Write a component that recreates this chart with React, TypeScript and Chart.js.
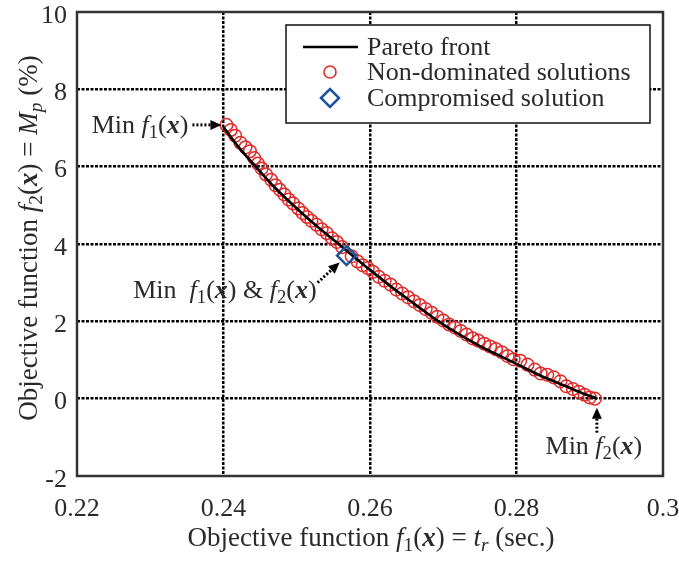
import React, { useEffect, useRef } from 'react';
import { Chart, registerables } from 'chart.js';

Chart.register(...registerables);

// ---------- data ----------
const paretoX = [0.24, 0.242, 0.2445, 0.247, 0.25, 0.253, 0.2559, 0.258, 0.26, 0.263, 0.266, 0.2692, 0.272, 0.275, 0.278, 0.28, 0.283, 0.286, 0.289, 0.291];
const paretoY = [7.02, 6.52, 5.98, 5.46, 4.92, 4.42, 3.97, 3.64, 3.33, 2.88, 2.46, 2.02, 1.68, 1.36, 1.08, 0.9, 0.62, 0.38, 0.14, 0.0];

const solX = [0.2404, 0.241, 0.2416, 0.2423, 0.243, 0.2436, 0.2442, 0.2447, 0.2452, 0.2458, 0.2465, 0.2471, 0.2477, 0.2483, 0.2489, 0.2495, 0.2502, 0.2508, 0.2514, 0.252, 0.2527, 0.2534, 0.2541, 0.2548, 0.2555, 0.2562, 0.2575, 0.2583, 0.259, 0.2597, 0.2604, 0.2612, 0.262, 0.2628, 0.2636, 0.2644, 0.2652, 0.266, 0.2668, 0.2676, 0.2684, 0.2692, 0.27, 0.2708, 0.2716, 0.2724, 0.2732, 0.274, 0.2748, 0.2756, 0.2764, 0.2772, 0.278, 0.2788, 0.2796, 0.2805, 0.2815, 0.2825, 0.2833, 0.2842, 0.2851, 0.286, 0.2868, 0.2877, 0.2885, 0.2893, 0.29, 0.2907];
const solY = [7.08, 6.95, 6.8, 6.62, 6.5, 6.4, 6.22, 6.08, 5.95, 5.8, 5.66, 5.52, 5.4, 5.28, 5.15, 5.05, 4.92, 4.8, 4.7, 4.6, 4.5, 4.38, 4.28, 4.15, 4.05, 3.92, 3.68, 3.55, 3.45, 3.38, 3.28, 3.15, 3.05, 2.95, 2.82, 2.72, 2.62, 2.52, 2.42, 2.32, 2.22, 2.12, 2.02, 1.92, 1.84, 1.75, 1.66, 1.56, 1.5, 1.42, 1.35, 1.28, 1.2, 1.1, 1.02, 0.98, 0.88, 0.75, 0.65, 0.62, 0.55, 0.45, 0.32, 0.25, 0.18, 0.1, 0.03, 0.0];

const compromiseX = [0.2568];
const compromiseY = [3.7];

const xTicks = [0.22, 0.24, 0.26, 0.28, 0.3];
const xTickLabels = ['0.22', '0.24', '0.26', '0.28', '0.3'];
const yTicks = [-2, 0, 2, 4, 6, 8, 10];
const yTickLabels = ['-2', '0', '2', '4', '6', '8', '10'];

const seriesNames = ['Pareto front', 'Non-dominated solutions', 'Compromised solution'];

// ---------- style ----------
const FONT = '"Liberation Serif", "Times New Roman", serif';
const TEXT = '#2a2a2a';
const RED = '#e02a2a';
const BLUE = '#1f4f9f';

type Run = { t: string; st?: '' | 'i' | 'bi'; sub?: boolean };

const fx = (n: string): Run[] => [
  { t: 'f', st: 'i' },
  { t: n, sub: true },
  { t: '(' },
  { t: 'x', st: 'bi' },
  { t: ')' },
];

function fontFor(r: Run, size: number) {
  const sz = r.sub ? size * 0.72 : size;
  const st = r.st === 'i' ? 'italic ' : r.st === 'bi' ? 'italic bold ' : '';
  return `${st}${sz}px ${FONT}`;
}

function runsWidth(ctx: CanvasRenderingContext2D, runs: Run[], size: number) {
  let w = 0;
  for (const r of runs) {
    ctx.font = fontFor(r, size);
    w += ctx.measureText(r.t).width;
  }
  return w;
}

function drawRuns(ctx: CanvasRenderingContext2D, runs: Run[], x: number, y: number, size: number, align: 'left' | 'center' | 'right') {
  const w = runsWidth(ctx, runs, size);
  let cx = align === 'center' ? x - w / 2 : align === 'right' ? x - w : x;
  ctx.textBaseline = 'alphabetic';
  ctx.textAlign = 'left';
  for (const r of runs) {
    ctx.font = fontFor(r, size);
    ctx.fillText(r.t, cx, y + (r.sub ? size * 0.2 : 0));
    cx += ctx.measureText(r.t).width;
  }
}

function arrow(ctx: CanvasRenderingContext2D, x1: number, y1: number, x2: number, y2: number) {
  const ang = Math.atan2(y2 - y1, x2 - x1);
  const hl = 11;
  const hw = 5;
  const bx = x2 - hl * Math.cos(ang);
  const by = y2 - hl * Math.sin(ang);
  ctx.save();
  ctx.strokeStyle = '#000';
  ctx.lineWidth = 3;
  ctx.setLineDash([2, 2]);
  ctx.beginPath();
  ctx.moveTo(x1, y1);
  ctx.lineTo(bx, by);
  ctx.stroke();
  ctx.setLineDash([]);
  ctx.beginPath();
  ctx.moveTo(x2, y2);
  ctx.lineTo(bx + hw * Math.sin(ang), by - hw * Math.cos(ang));
  ctx.lineTo(bx - hw * Math.sin(ang), by + hw * Math.cos(ang));
  ctx.closePath();
  ctx.fillStyle = '#000';
  ctx.fill();
  ctx.restore();
}

const decorPlugin = {
  id: 'decor',
  afterDraw(chart: any) {
    const ctx: CanvasRenderingContext2D = chart.ctx;
    const xs = chart.scales.x;
    const ys = chart.scales.y;
    const a = chart.chartArea;
    ctx.save();

    // frame
    ctx.strokeStyle = '#333';
    ctx.lineWidth = 2.5;
    ctx.setLineDash([]);
    ctx.strokeRect(a.left, a.top, a.right - a.left, a.bottom - a.top);

    // tick labels
    ctx.fillStyle = TEXT;
    ctx.font = `26px ${FONT}`;
    ctx.textAlign = 'center';
    ctx.textBaseline = 'middle';
    xTicks.forEach((v, i) => {
      ctx.fillText(xTickLabels[i], xs.getPixelForValue(v), a.bottom + 33);
    });
    ctx.textAlign = 'right';
    yTicks.forEach((v, i) => {
      ctx.fillText(yTickLabels[i], a.left - 10, ys.getPixelForValue(v) + 4);
    });

    // axis titles
    const xTitle: Run[] = [{ t: 'Objective function ' }, ...fx('1'), { t: ' = ' }, { t: 't', st: 'i' }, { t: 'r', st: 'i', sub: true }, { t: ' (sec.)' }];
    drawRuns(ctx, xTitle, (a.left + a.right) / 2 + 1, 546, 27, 'center');
    const yTitle: Run[] = [{ t: 'Objective function ' }, ...fx('2'), { t: ' = ' }, { t: 'M', st: 'i' }, { t: 'p', st: 'i', sub: true }, { t: ' (%)' }];
    ctx.save();
    ctx.translate(37, 238);
    ctx.rotate(-Math.PI / 2);
    drawRuns(ctx, yTitle, 0, 0, 27, 'center');
    ctx.restore();

    // annotations
    const p1x = xs.getPixelForValue(solX[0]);
    const p1y = ys.getPixelForValue(solY[0]);
    arrow(ctx, p1x - 34, p1y, p1x - 5, p1y);
    drawRuns(ctx, [{ t: 'Min ' }, ...fx('1')], p1x - 38, p1y + 8, 26, 'right');

    const cx = xs.getPixelForValue(compromiseX[0]);
    const cy = ys.getPixelForValue(compromiseY[0]);
    arrow(ctx, cx - 29, cy + 27, cx - 7, cy + 7);
    drawRuns(ctx, [{ t: 'Min  ' }, ...fx('1'), { t: ' & ' }, ...fx('2')], cx - 30, cy + 42, 26, 'right');

    const lx = solX.length - 1;
    const p2x = xs.getPixelForValue(solX[lx]);
    const p2y = ys.getPixelForValue(solY[lx]);
    arrow(ctx, p2x + 2, p2y + 34, p2x + 2, p2y + 9);
    drawRuns(ctx, [{ t: 'Min ' }, ...fx('2')], p2x - 1, p2y + 55, 26, 'center');

    // legend
    const L = 286, T = 25, R = 650, B = 123;
    ctx.fillStyle = '#fff';
    ctx.fillRect(L, T, R - L, B - T);
    ctx.strokeStyle = '#111';
    ctx.lineWidth = 1.5;
    ctx.strokeRect(L, T, R - L, B - T);
    const rows = [47, 72, 98];
    ctx.strokeStyle = '#000';
    ctx.lineWidth = 2.5;
    ctx.beginPath();
    ctx.moveTo(303, rows[0]);
    ctx.lineTo(358, rows[0]);
    ctx.stroke();
    ctx.strokeStyle = RED;
    ctx.lineWidth = 1.6;
    ctx.beginPath();
    ctx.arc(330, rows[1], 6, 0, Math.PI * 2);
    ctx.stroke();
    ctx.strokeStyle = BLUE;
    ctx.lineWidth = 2.5;
    ctx.beginPath();
    ctx.moveTo(330 - 9, rows[2]);
    ctx.lineTo(330, rows[2] - 9);
    ctx.lineTo(330 + 9, rows[2]);
    ctx.lineTo(330, rows[2] + 9);
    ctx.closePath();
    ctx.stroke();
    ctx.fillStyle = TEXT;
    ctx.font = `26px ${FONT}`;
    ctx.textAlign = 'left';
    ctx.textBaseline = 'middle';
    seriesNames.forEach((n, i) => ctx.fillText(n, 367, rows[i] + 1));

    ctx.restore();
  },
};

export default function App() {
  const ref = useRef<HTMLCanvasElement>(null);
  useEffect(() => {
    if (!ref.current) return;
    const gridColor = (c: any) => {
      const v = c.tick ? c.tick.value : null;
      const s = c.scale;
      if (v === null || Math.abs(v - s.min) < 1e-9 || Math.abs(v - s.max) < 1e-9) return 'rgba(0,0,0,0)';
      return '#000';
    };
    const chart = new Chart(ref.current, {
      type: 'scatter',
      data: {
        datasets: [
          {
            label: seriesNames[2],
            data: compromiseX.map((x, i) => ({ x, y: compromiseY[i] })),
            pointStyle: 'rectRot',
            pointRadius: 9.5,
            borderColor: BLUE,
            backgroundColor: 'rgba(0,0,0,0)',
            borderWidth: 2.5,
            order: 0,
          },
          {
            label: seriesNames[0],
            data: paretoX.map((x, i) => ({ x, y: paretoY[i] })),
            showLine: true,
            borderColor: '#000',
            borderWidth: 2.7,
            pointRadius: 0,
            cubicInterpolationMode: 'monotone',
            order: 1,
          },
          {
            label: seriesNames[1],
            data: solX.map((x, i) => ({ x, y: solY[i] })),
            pointStyle: 'circle',
            pointRadius: 6.3,
            borderColor: RED,
            backgroundColor: 'rgba(0,0,0,0)',
            borderWidth: 1.5,
            order: 2,
          },
        ],
      } as any,
      options: {
        responsive: false,
        animation: false,
        devicePixelRatio: 1,
        layout: { padding: { left: 0, right: 16, top: 11, bottom: 0 } },
        plugins: { legend: { display: false }, tooltip: { enabled: false } },
        scales: {
          x: {
            type: 'linear',
            min: 0.22,
            max: 0.3,
            afterBuildTicks: (s: any) => { s.ticks = xTicks.map((v) => ({ value: v })); },
            afterFit: (s: any) => { s.height = 85; },
            ticks: { display: false },
            grid: { color: gridColor, lineWidth: 2.5, drawTicks: false },
            border: { display: false, dash: [3, 1.5] },
          },
          y: {
            type: 'linear',
            min: -2,
            max: 10,
            afterBuildTicks: (s: any) => { s.ticks = yTicks.map((v) => ({ value: v })); },
            afterFit: (s: any) => { s.width = 77; },
            ticks: { display: false },
            grid: { color: gridColor, lineWidth: 2.5, drawTicks: false },
            border: { display: false, dash: [3, 1.5] },
          },
        },
      } as any,
      plugins: [decorPlugin],
    });
    return () => chart.destroy();
  }, []);
  return (
    <div style={{ position: 'absolute', left: 0, top: 0, width: 679, height: 561, background: '#fff' }}>
      <canvas ref={ref} width={679} height={561} />
    </div>
  );
}
